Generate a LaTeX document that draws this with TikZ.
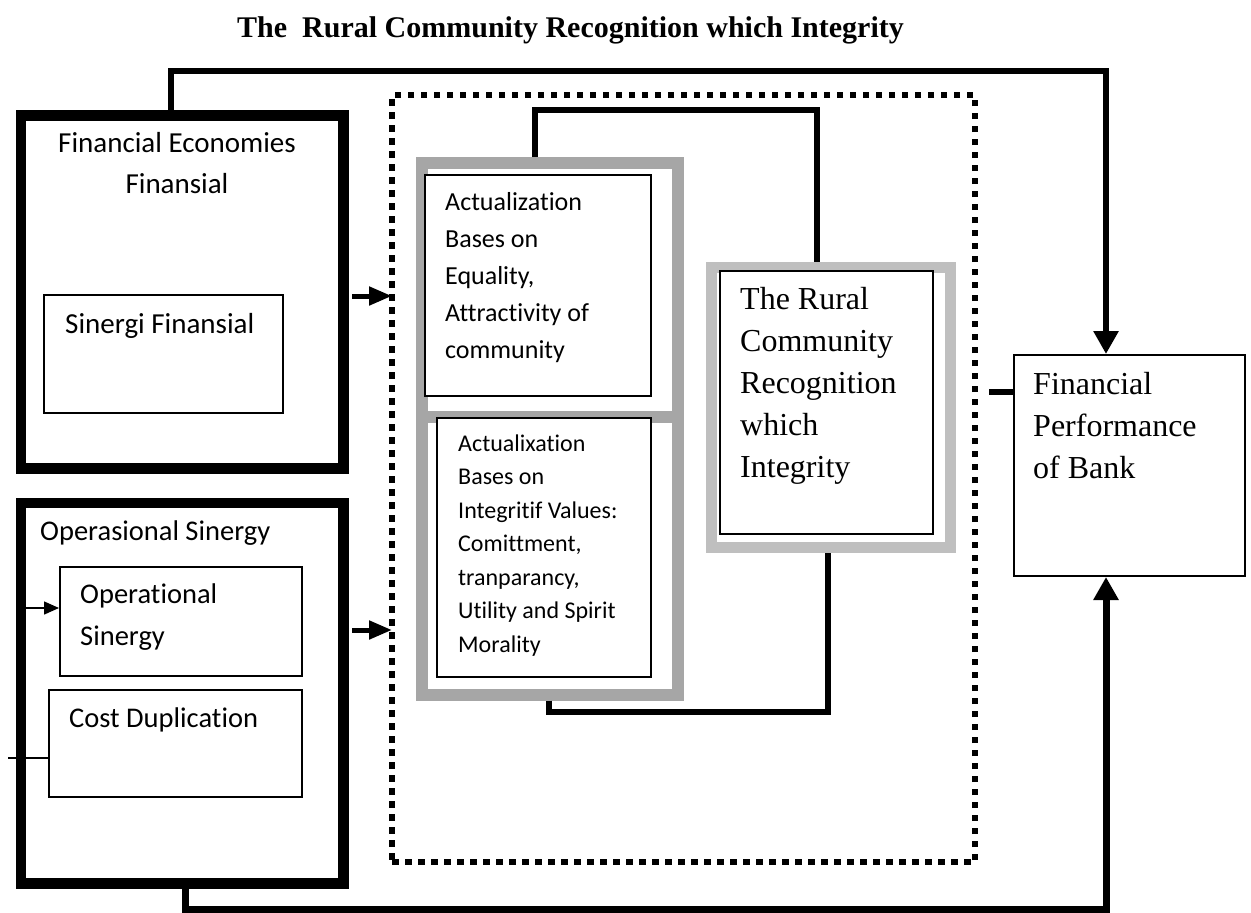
\documentclass[tikz,border=0pt]{standalone}
\usepackage{fontspec}
\setmainfont{Liberation Serif}
\newfontfamily\bodysans[Ligatures=NoCommon]{Carlito}
\usetikzlibrary{arrows.meta}

\definecolor{frameA}{HTML}{A6A6A6}
\definecolor{frameB}{HTML}{BFBFBF}

\tikzset{
    heavybox/.style={draw, line width=10.5pt, anchor=north west},
    thinbox/.style={draw, line width=1.5pt, fill=white, anchor=north west},
    graybox/.style={line width=12pt, anchor=north west},
    link/.style={line width=6pt},
    feed/.style={line width=5pt, -{Triangle[length=23pt,width=18pt]}},
    txt/.style={inner sep=0pt, anchor=base west},
}

\newcommand{\sansat}[2]{\bodysans\fontsize{#1}{#2}\selectfont}
\newcommand{\serifat}[2]{\rmfamily\fontsize{#1}{#2}\selectfont}

\begin{document}
\begin{tikzpicture}[x=1pt, y=-1pt]
        \useasboundingbox (0,0) rectangle (1251,913);

        % title
        \node[txt, font=\bfseries\serifat{30}{36}] at (237,37) (title) {The\ \ Rural Community Recognition which Integrity};

        % left blocks
        \node[heavybox, minimum width=322.5pt, minimum height=353pt] at (15.5,110) (FE) {};
        \node[heavybox, minimum width=322.5pt, minimum height=380.5pt] at (15.5,497.5) (OS) {};
        \node[thinbox, minimum width=239pt, minimum height=118pt] at (43,294) (sinergi) {};
        \node[thinbox, minimum width=242pt, minimum height=109pt] at (59,566) (opsin) {};
        \node[thinbox, minimum width=253pt, minimum height=107pt] at (48,689) (costdup) {};

        \node[txt, anchor=base, font=\sansat{29}{41}] at (177,152) (tFE) {\begin{tabular}[t]{@{}c@{}}Financial Economies\\ Finansial\end{tabular}};
        \node[txt, font=\sansat{29}{41}] at (65,333) (tSin) {Sinergi Finansial};
        \node[txt, font=\sansat{28.5}{41}] at (40,540) (tOS) {Operasional Sinergy};
        \node[txt, font=\sansat{28.5}{42}] at (80,603) (tOp) {\begin{tabular}[t]{@{}l@{}}Operational\\ Sinergy\end{tabular}};
        \node[txt, font=\sansat{28.5}{41}] at (69,727) (tCost) {Cost Duplication};

        % dotted frame
        \node[draw, anchor=north west, outer sep=0pt, line width=6.5pt, dash pattern=on 6.5pt off 6.5pt, minimum width=583pt, minimum height=767pt] at (392,95) (dots) {};

        % actualization group
        \node[graybox, draw=frameA, minimum width=256pt, minimum height=531.5pt] at (416,157) (actgroup) {};
        \draw[frameA, line width=12pt] (actgroup.west |- 0,417) -- (actgroup.east |- 0,417);
        \node[thinbox, minimum width=226pt, minimum height=221pt] at (424,174) (act1) {};
        \node[thinbox, minimum width=214pt, minimum height=259pt] at (436,417) (act2) {};

        \node[txt, font=\sansat{26}{37}] at (445,210) (tAct1) {\begin{tabular}[t]{@{}l@{}}Actualization\\ Bases on\\ Equality,\\ Attractivity of\\ community\end{tabular}};
        \node[txt, font=\sansat{24}{33.5}] at (458,451) (tAct2) {\begin{tabular}[t]{@{}l@{}}Actualixation\\ Bases on\\ Integritif Values:\\ Comittment,\\ tranparancy,\\ Utility and Spirit\\ Morality\end{tabular}};

        % rural community
        \node[graybox, draw=frameB, line width=11pt, minimum width=239.5pt, minimum height=280pt] at (705.5,261.5) (ruralframe) {};
        \node[thinbox, minimum width=213pt, minimum height=263pt] at (719,270) (rural) {};
        \node[txt, font=\serifat{32}{42.2}] at (740,309) (tRural) {\begin{tabular}[t]{@{}l@{}}The Rural\\ Community\\ Recognition\\ which\\ Integrity\end{tabular}};

        % performance
        \node[draw, line width=2pt, anchor=north west, minimum width=231pt, minimum height=221pt] at (1013,354) (perf) {};
        \node[txt, font=\serifat{32}{42}] at (1033,394) (tPerf) {\begin{tabular}[t]{@{}l@{}}Financial\\ Performance\\ of Bank\end{tabular}};

        % links
        \coordinate (in1) at (352,296);
        \coordinate (in2) at (352,630);
        \draw[feed] (in1) -- (in1 -| dots.west);
        \draw[feed] (in2) -- (in2 -| dots.west);

        \draw[link, -{Triangle[length=23pt,width=24pt]}] (171,0 |- FE.north) |- (1106,71) -- (1106,0 |- perf.north);
        \draw[link, line width=7pt, -{Triangle[length=23pt,width=24pt]}] (185,0 |- OS.south) |- (1106,909) -- (1106,0 |- perf.south);

        \draw[link] (535,0 |- actgroup.north) |- (817,110) -- (817,0 |- ruralframe.north);
        \draw[link] (549,0 |- actgroup.south) |- (828,712) -- (828,0 |- ruralframe.south);

        \coordinate (stub) at (989,392);
        \draw[link] (stub) -- (stub -| perf.west);

        \coordinate (opin) at (21,608);
        \coordinate (costin) at (8,758);
        \draw[line width=1.5pt, -{Triangle[length=15pt,width=13pt]}] (opin) -- (opin -| opsin.west);
        \draw[line width=1.5pt] (costin) -- (costin -| costdup.west);
    \end{tikzpicture}
\end{document}
